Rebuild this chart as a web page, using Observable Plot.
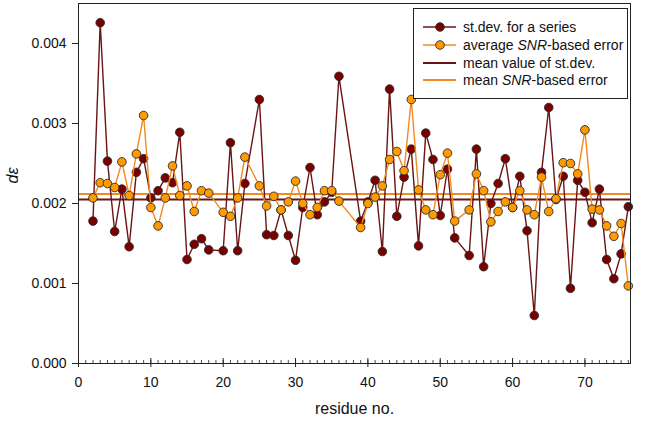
<!DOCTYPE html>
<html>
<head>
<meta charset="utf-8">
<script src="https://cdn.jsdelivr.net/npm/d3@7"></script>
<script src="https://cdn.jsdelivr.net/npm/@observablehq/plot@0.6"></script>
<style>
  html, body { margin: 0; padding: 0; background: #fff; }
  #wrap { position: relative; width: 645px; height: 422px; font-family: "Liberation Sans", Arial, sans-serif; }
  #legend { position: absolute; left: 413px; top: 8px; }
</style>
</head>
<body>
<div id="wrap"></div>
<script>
// residues (ubiquitin; 19, 24, 37, 38, 53 absent)
const residues = [2,3,4,5,6,7,8,9,10,11,12,13,14,15,16,17,18,20,21,22,23,25,26,27,28,29,30,31,32,33,34,35,36,39,40,41,42,43,44,45,46,47,48,49,50,51,52,54,55,56,57,58,59,60,61,62,63,64,65,66,67,68,69,70,71,72,73,74,75,76];
const stdev = [0.00178,0.00426,0.00253,0.00165,0.00218,0.00146,0.00239,0.00256,0.00207,0.00216,0.00232,0.00226,0.00289,0.00130,0.00149,0.00156,0.00142,0.00141,0.00276,0.00141,0.00225,0.00330,0.00161,0.00160,0.00192,0.00160,0.00129,0.00195,0.00245,0.00186,0.00202,0.00214,0.00359,0.00178,0.00202,0.00229,0.00140,0.00343,0.00184,0.00233,0.00268,0.00147,0.00288,0.00255,0.00185,0.00243,0.00157,0.00135,0.00268,0.00121,0.00200,0.00225,0.00256,0.00195,0.00234,0.00166,0.00060,0.00239,0.00320,0.00205,0.00234,0.00094,0.00229,0.00214,0.00176,0.00218,0.00130,0.00106,0.00137,0.00196];
const snrErr = [0.00207,0.00226,0.00225,0.00220,0.00252,0.00210,0.00262,0.00310,0.00195,0.00172,0.00207,0.00247,0.00210,0.00222,0.00190,0.00216,0.00213,0.00189,0.00184,0.00207,0.00258,0.00222,0.00197,0.00209,0.00192,0.00202,0.00228,0.00200,0.00186,0.00195,0.00216,0.00216,0.00203,0.00170,0.00200,0.00208,0.00222,0.00255,0.00265,0.00241,0.00330,0.00217,0.00192,0.00186,0.00236,0.00263,0.00178,0.00192,0.00237,0.00216,0.00177,0.00190,0.00202,0.00195,0.00216,0.00192,0.00186,0.00233,0.00190,0.00206,0.00251,0.00250,0.00237,0.00292,0.00193,0.00192,0.00172,0.00159,0.00175,0.00097];
const meanStdev = 0.00205;
const meanSnr = 0.00212;
const yTicks = [0, 0.001, 0.002, 0.003, 0.004];
const xTicks = [0, 10, 20, 30, 40, 50, 60, 70];
const xMinor = d3.range(0, 77);
const legendLabels = ["st.dev. for a series", "average SNR-based error", "mean value of st.dev.", "mean SNR-based error"];

const dark = "#7a0000", darkLine = "#6a1414";
const orange = "#ff9a00", orangeLine = "#f28a22";

const sdData = residues.map((r, i) => ({r, v: stdev[i]}));
const snData = residues.map((r, i) => ({r, v: snrErr[i]}));

const chart = Plot.plot({
  width: 645, height: 422,
  marginLeft: 78, marginRight: 15, marginTop: 3, marginBottom: 59,
  style: {fontFamily: '"Liberation Sans", Arial, sans-serif', background: "white", overflow: "visible"},
  x: {domain: [0, 76.3]},
  y: {domain: [0, 0.0045]},
  marks: [
    Plot.ruleY([meanStdev], {stroke: darkLine, strokeWidth: 2}),
    Plot.ruleY([meanSnr], {stroke: orangeLine, strokeWidth: 2}),
    Plot.line(sdData, {x: "r", y: "v", stroke: darkLine, strokeWidth: 1.4}),
    Plot.dot(sdData, {x: "r", y: "v", r: 4.3, fill: dark, stroke: "#2a2a2a", strokeWidth: 0.9}),
    Plot.line(snData, {x: "r", y: "v", stroke: orangeLine, strokeWidth: 1.4}),
    Plot.dot(snData, {x: "r", y: "v", r: 4.3, fill: orange, stroke: "#2a2a2a", strokeWidth: 0.9}),
    Plot.tickX(xMinor, {x: d => d, insetTop: 357, stroke: "#222", strokeWidth: 0.8}),
    Plot.tickX(xTicks, {x: d => d, insetTop: 355, stroke: "#222", strokeWidth: 1}),
    Plot.axisX({ticks: xTicks, tickSize: 4, tickPadding: 10, tickFormat: d => String(d), fontSize: 14, stroke: "#222", color: "#111", label: null}),
    Plot.axisY({ticks: yTicks, tickSize: 6, tickPadding: 6, tickFormat: d3.format(".3f"), fontSize: 14, stroke: "#222", color: "#111", label: null}),
    Plot.frame({stroke: "#222", strokeWidth: 1}),
    Plot.text(["residue no."], {frameAnchor: "bottom", dy: 50, text: d => d, fontSize: 16, fill: "#111"}),
    Plot.text(["dε"], {frameAnchor: "left", dx: -66, rotate: -90, text: d => d, fontSize: 16, fontStyle: "italic", fill: "#111"})
  ]
});
document.getElementById("wrap").appendChild(chart);

// legend
const ns = "http://www.w3.org/2000/svg";
const lg = document.createElementNS(ns, "svg");
lg.setAttribute("id", "legend");
lg.setAttribute("width", 216);
lg.setAttribute("height", 92);
lg.innerHTML = `<rect x="0.5" y="0.5" width="214" height="90" fill="white" stroke="#222" stroke-width="1"/>`;
const rowsY = [19, 37, 55, 72];
const styles = [
  {line: darkLine, dot: dark},
  {line: orangeLine, dot: orange},
  {line: darkLine, dot: null},
  {line: orangeLine, dot: null}
];
legendLabels.forEach((lab, i) => {
  const y = rowsY[i];
  const s = styles[i];
  let g = `<line x1="10" x2="43" y1="${y}" y2="${y}" stroke="${s.line}" stroke-width="${s.dot ? 1.6 : 2}"/>`;
  if (s.dot) g += `<circle cx="27" cy="${y}" r="4.3" fill="${s.dot}" stroke="#2a2a2a" stroke-width="0.9"/>`;
  const t = lab.replace("SNR", '<tspan font-style="italic">SNR</tspan>');
  g += `<text x="50" y="${y}" dy="0.35em" font-size="14" fill="#111" font-family="Liberation Sans, Arial, sans-serif">${t}</text>`;
  lg.insertAdjacentHTML("beforeend", g);
});
document.getElementById("wrap").appendChild(lg);
</script>
</body>
</html>
